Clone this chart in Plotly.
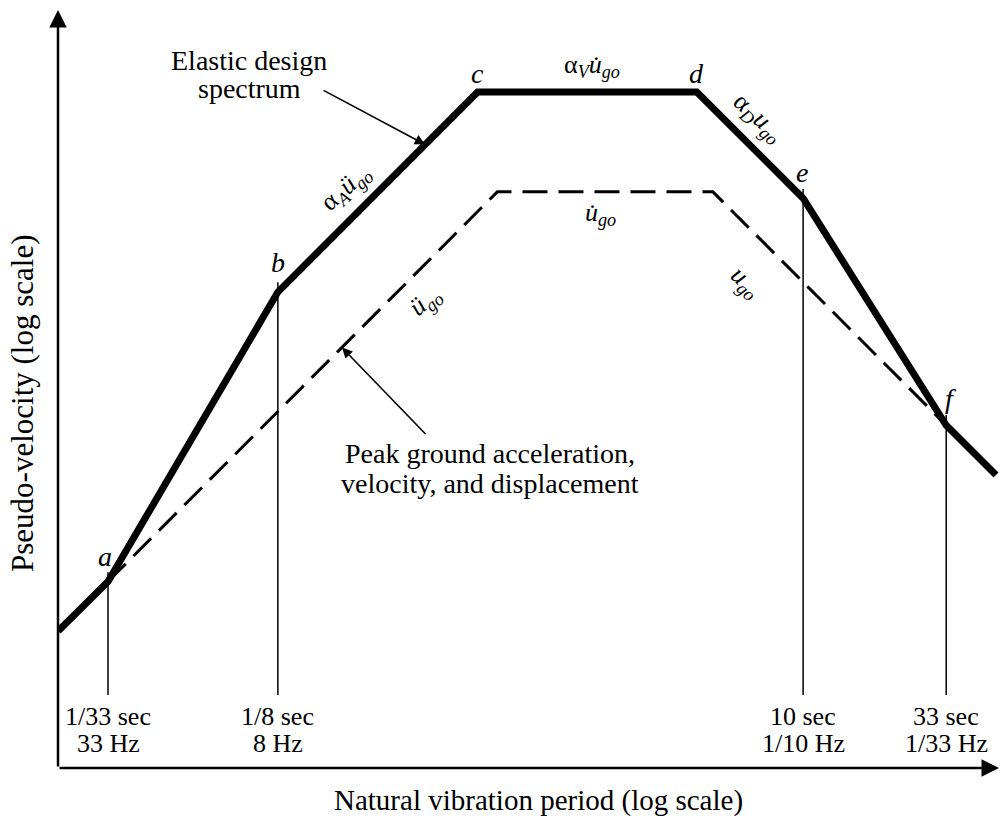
import math
import plotly.graph_objects as go

# Elastic design spectrum (pseudo-velocity, in/s) vs natural period (s)
spec_T = [0.02, 1 / 33, 1 / 8, 0.662, 4.12, 10, 33, 50]
spec_V = [1.23, 1.86, 20.8, 110.4, 110.4, 45.5, 6.85, 4.52]

# Peak ground acceleration / velocity / displacement bounds
ground_T = [1 / 33, 0.78, 4.71, 33]
ground_V = [1.86, 48.0, 48.0, 6.85]

# Period markers a, b, e, f
mark_T = [1 / 33, 1 / 8, 10, 33]
mark_top = [2.01, 22.6, 49.2, 7.46]
mark_bottom = 0.722
mark_sec = ["1/33 sec", "1/8 sec", "10 sec", "33 sec"]
mark_hz = ["33 Hz", "8 Hz", "1/10 Hz", "1/33 Hz"]

# Corner letters
corner_T = [1 / 33, 1 / 8, 0.662, 4.12, 10, 33]
corner_V = [1.86, 20.8, 110.4, 110.4, 45.5, 6.85]
corner_lbl = ["a", "b", "c", "d", "e", "f"]
corner_dy = [25, 30, 18, 18, 26, 27]
corner_dx = [-3, 0, 0, 0, -1, 4]

FONT = "Liberation Serif"
W, H = 1000, 821
L, R, T_, B = 58, 0, 10, 53
PW, PH = W - L - R, H - T_ - B


def px(xp):
    return (xp - L) / PW


def py(yp):
    return (H - B - yp) / PH


def text_ann(txt, xx, yy, size=28, angle=0):
    return dict(x=px(xx), y=py(yy), xref="paper", yref="paper",
                xanchor="center", yanchor="middle",
                text=txt, showarrow=False, textangle=angle,
                font=dict(family=FONT, size=size, color="black"))


fig = go.Figure()

for t, top in zip(mark_T, mark_top):
    fig.add_trace(go.Scatter(x=[t, t], y=[mark_bottom, top], mode="lines",
                             line=dict(color="black", width=1.5),
                             hoverinfo="skip", showlegend=False))

fig.add_trace(go.Scatter(x=ground_T, y=ground_V, mode="lines",
                         line=dict(color="black", width=3, dash="25px,11px"),
                         showlegend=False))
fig.add_trace(go.Scatter(x=spec_T, y=spec_V, mode="lines",
                         line=dict(color="black", width=7),
                         showlegend=False))

ann = []

# corner letters
for t, v, s, dy, dx in zip(corner_T, corner_V, corner_lbl, corner_dy, corner_dx):
    ann.append(dict(x=math.log10(t), y=math.log10(v), xref="x", yref="y",
                    xanchor="center", yanchor="middle",
                    text=f"<i>{s}</i>", showarrow=False, yshift=dy, xshift=dx,
                    font=dict(family=FONT, size=28, color="black")))

# period / frequency labels
for t, s1, s2 in zip(mark_T, mark_sec, mark_hz):
    ann.append(dict(x=math.log10(t), y=py(716), xref="x", yref="paper",
                    text=s1, showarrow=False, xanchor="center", yanchor="middle",
                    font=dict(family=FONT, size=26, color="black")))
    ann.append(dict(x=math.log10(t), y=py(743), xref="x", yref="paper",
                    text=s2, showarrow=False, xanchor="center", yanchor="middle",
                    font=dict(family=FONT, size=26, color="black")))

# curve labels
curve_lbls = [
    ("α<sub><i>V</i></sub><i>u̇</i><sub><i>go</i></sub>", 592, 66, 0),
    ("α<sub><i>A</i></sub><i>ü</i><sub><i>go</i></sub>", 346, 188, -42),
    ("α<sub><i>D</i></sub><i>u</i><sub><i>go</i></sub>", 758, 118, 42),
    ("<i>u̇</i><sub><i>go</i></sub>", 600, 214, 0),
    ("<i>ü</i><sub><i>go</i></sub>", 425, 302, -40),
    ("<i>u</i><sub><i>go</i></sub>", 745, 282, 42),
]
for txt, xx, yy, ang in curve_lbls:
    ann.append(text_ann(txt, xx, yy, size=26, angle=ang))

# callouts
ann.append(text_ann("Elastic design", 249, 60))
ann.append(text_ann("spectrum", 249, 88))
ann.append(text_ann("Peak ground acceleration,", 490, 453))
ann.append(text_ann("velocity, and displacement", 490, 483))
ann.append(dict(x=math.log10(0.427), y=math.log10(71.2), xref="x", yref="y",
                text="", showarrow=True, arrowhead=2, arrowsize=1.3,
                arrowwidth=1.6, arrowcolor="black", ax=-103, ay=-55,
                axref="pixel", ayref="pixel"))
ann.append(dict(x=math.log10(0.2134), y=math.log10(13.1), xref="x", yref="y",
                text="", showarrow=True, arrowhead=2, arrowsize=1.3,
                arrowwidth=1.6, arrowcolor="black", ax=85, ay=88,
                axref="pixel", ayref="pixel"))

# axes with arrowheads
ann.append(dict(x=0, y=1, xref="paper", yref="paper", text="",
                showarrow=True, arrowhead=2, arrowsize=1.4, arrowwidth=2.5,
                arrowcolor="black", ax=0, ay=PH, axref="pixel", ayref="pixel"))
ann.append(dict(x=1, y=0, xref="paper", yref="paper", text="",
                showarrow=True, arrowhead=2, arrowsize=1.4, arrowwidth=2.5,
                arrowcolor="black", ax=-PW, ay=0, axref="pixel", ayref="pixel"))

# axis titles
ann.append(text_ann("Natural vibration period (log scale)", 538, 800, size=29))
ann.append(text_ann("Pseudo-velocity (log scale)", 22, 404, size=31, angle=-90))

fig.update_layout(
    width=W, height=H,
    margin=dict(l=L, r=R, t=T_, b=B),
    paper_bgcolor="white", plot_bgcolor="white",
    xaxis=dict(type="log", range=[-1.6997, 1.7134], visible=False),
    yaxis=dict(type="log", range=[-0.406, 2.340], visible=False),
    annotations=ann,
    showlegend=False,
)

fig.write_html("out.html")
